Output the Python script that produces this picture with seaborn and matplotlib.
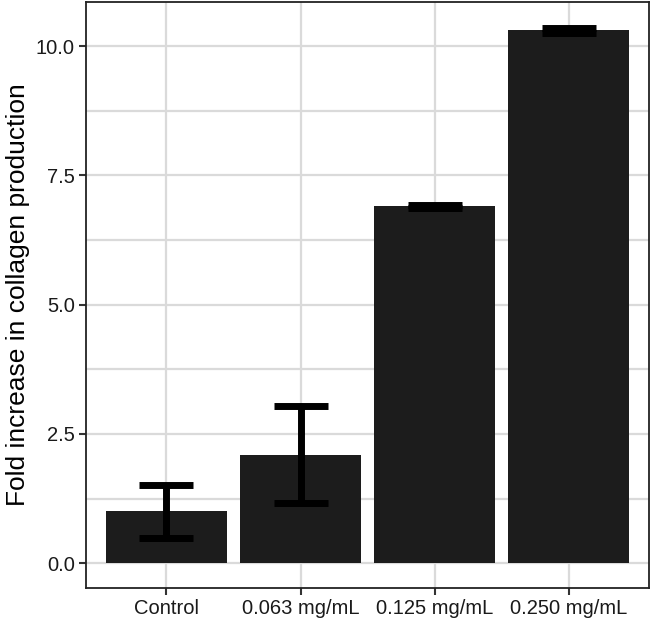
import pandas as pd
import numpy as np
import matplotlib
matplotlib.use('Agg')
import matplotlib.pyplot as plt
import seaborn as sns
from matplotlib.ticker import MultipleLocator

# Data
groups = ['Control', '0.063 mg/mL', '0.125 mg/mL', '0.250 mg/mL']
fold_change = [1.0, 2.1, 6.9, 10.3]
err = [0.52, 0.94, 0.03, 0.05]

df = pd.DataFrame({'group': groups, 'fold': fold_change, 'err': err})

sns.set_style('white')
plt.rcParams['font.family'] = ['Liberation Sans', 'DejaVu Sans']

fig = plt.figure(figsize=(6.54, 6.23), dpi=100)
ax = fig.add_axes([0.1315, 0.0562, 0.861, 0.9405])

sns.barplot(data=df, x='group', y='fold', color='#1c1c1c', saturation=1,
            width=0.9, errorbar=None, ax=ax, zorder=2)
# bars in ggplot have no edge
for p in ax.patches:
    p.set_edgecolor('none')

pos = np.arange(len(groups))
ax.errorbar(pos, df['fold'], yerr=df['err'], fmt='none', ecolor='black',
            elinewidth=5, capsize=19.5, capthick=5, zorder=3)

ax.set_xlim(-0.6, 3.6)
ax.set_ylim(-0.48, 10.85)
ax.yaxis.set_minor_locator(MultipleLocator(1.25))
ax.set_yticks([0, 2.5, 5, 7.5, 10])
ax.set_yticklabels(['0.0', '2.5', '5.0', '7.5', '10.0'])

ax.grid(True, which='major', color='#dadada', linewidth=1.6, zorder=0)
ax.grid(True, which='minor', axis='y', color='#dadada', linewidth=1.6, zorder=0)
ax.set_axisbelow(True)

for s in ax.spines.values():
    s.set_color('#222222')
    s.set_linewidth(1.3)

ax.tick_params(axis='both', which='major', length=5, width=1.5, color='#333333',
               labelsize=14.5, labelcolor='#1a1a1a', direction='out', pad=3,
               left=True, bottom=True)
ax.tick_params(axis='y', which='minor', length=0)
ax.set_xlabel('')
ax.set_ylabel('Fold increase in collagen production', fontsize=19, color='black', labelpad=4)

fig.savefig('out.png', dpi=100)
